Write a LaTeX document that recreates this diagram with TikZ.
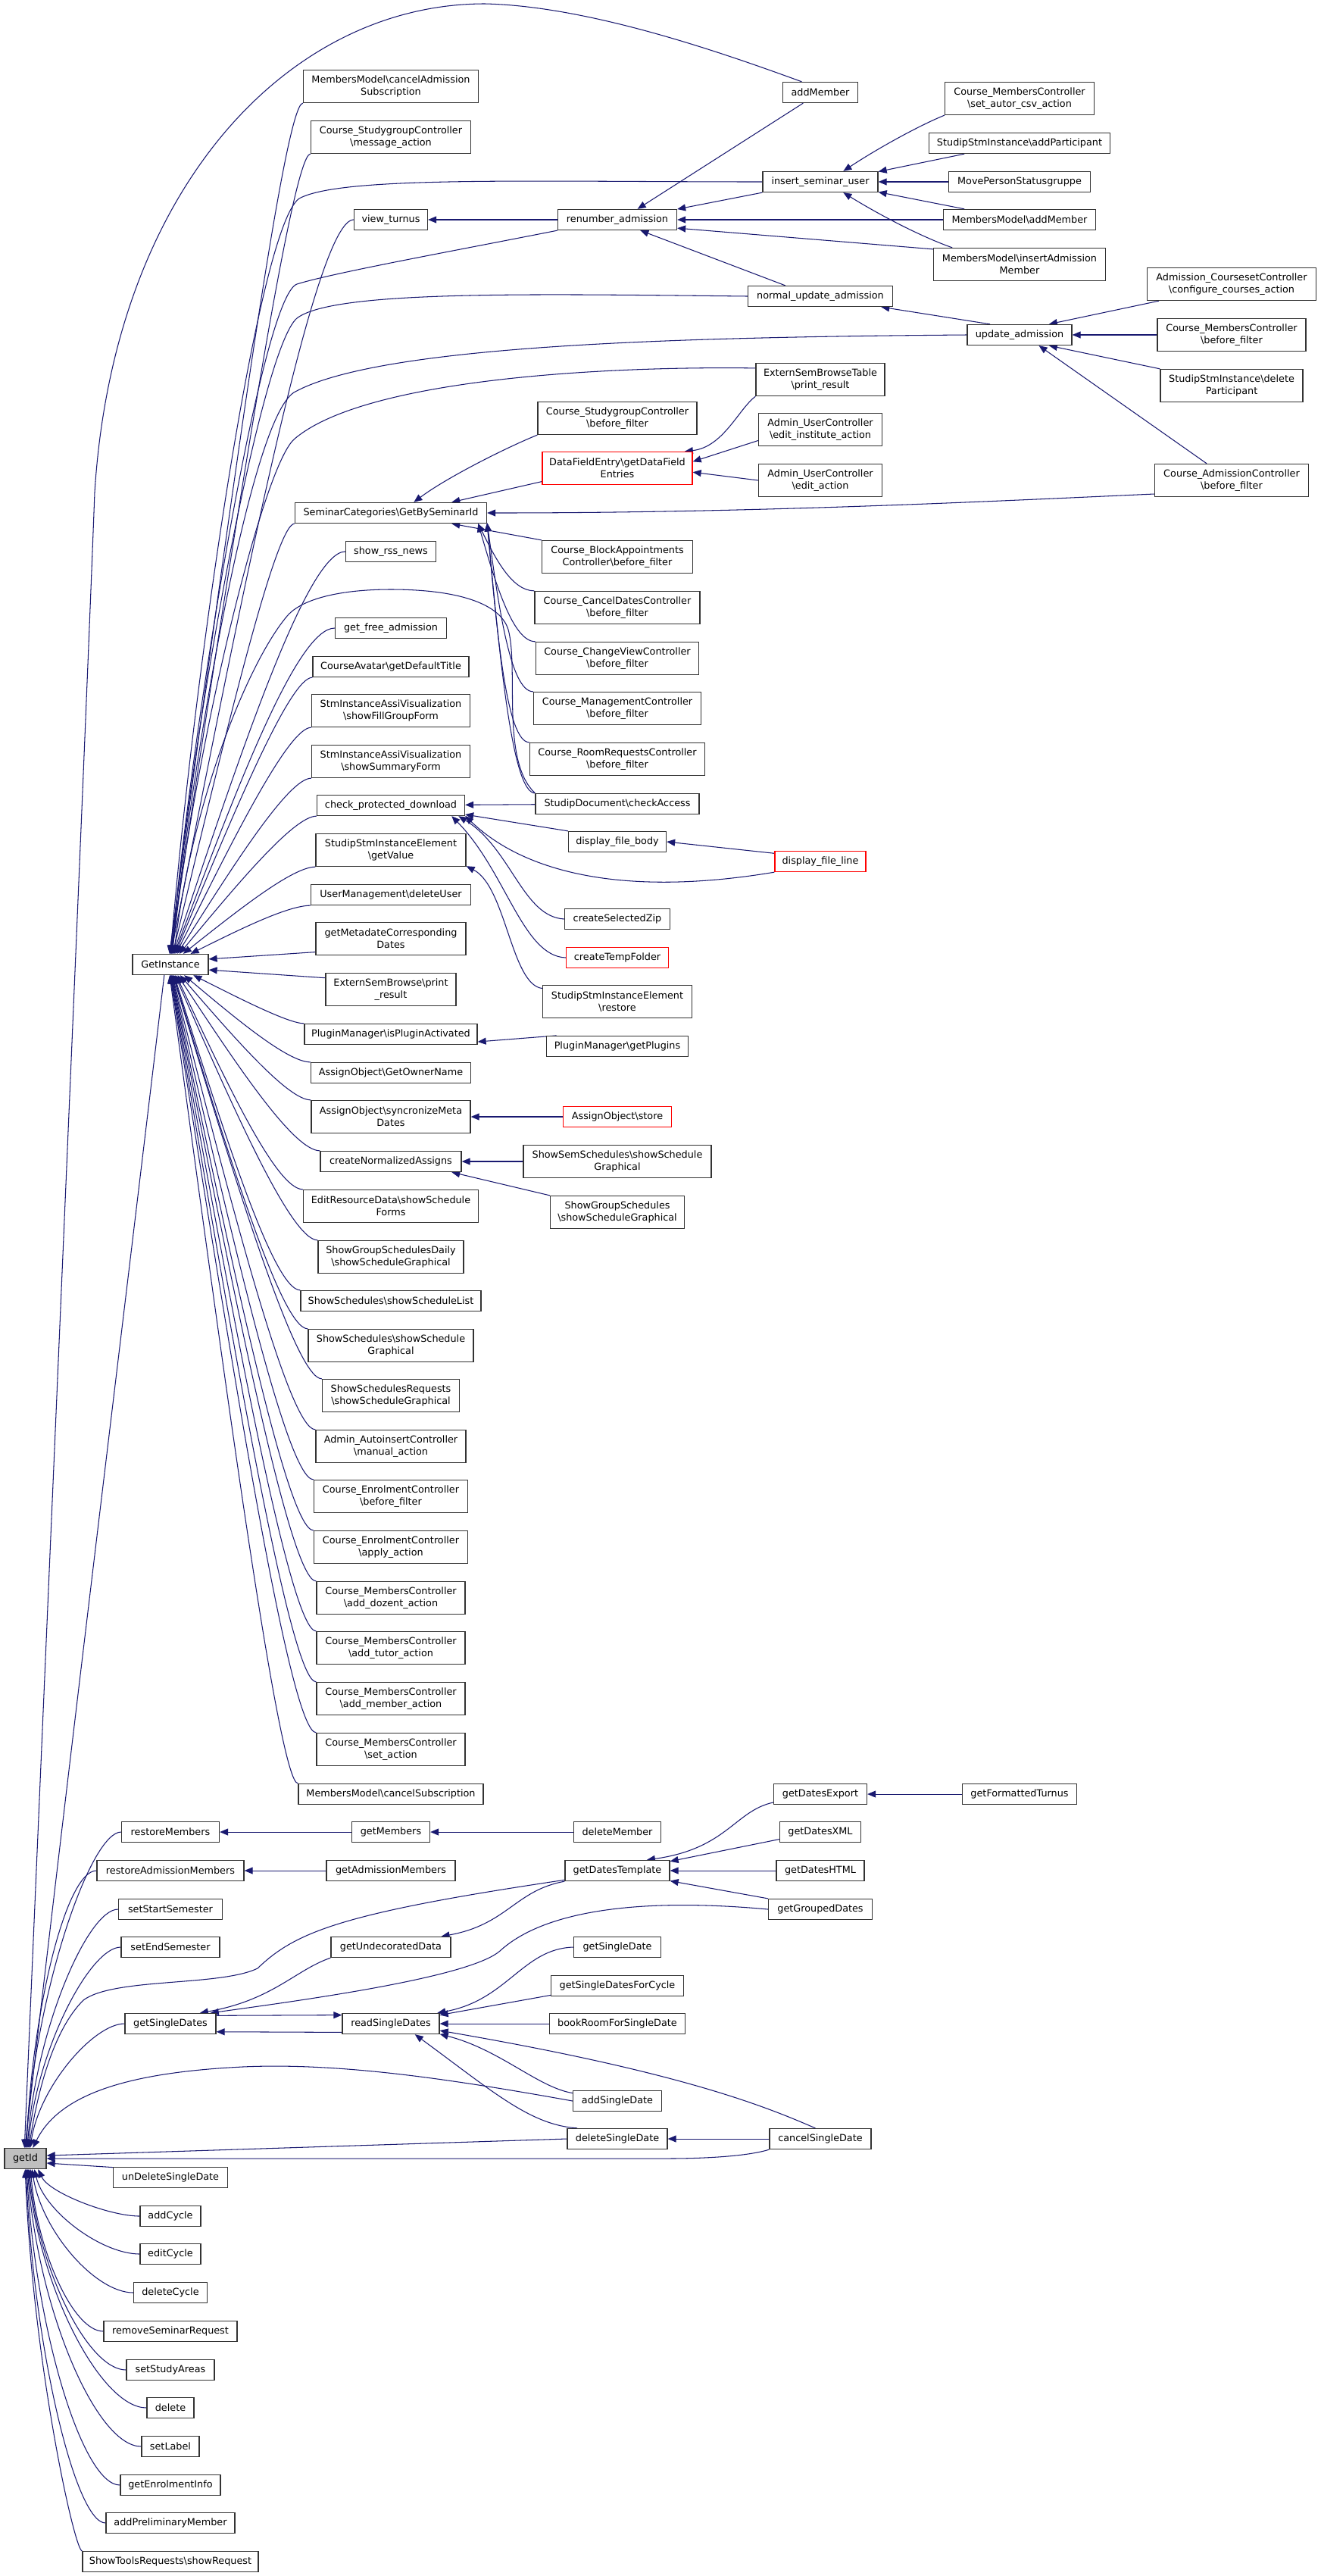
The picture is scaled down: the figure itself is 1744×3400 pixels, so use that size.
\documentclass[tikz,border=0pt]{standalone}
\usepackage{fontspec}
\setmainfont{DejaVu Sans}
\usetikzlibrary{arrows.meta,calc,backgrounds}
\definecolor{edgecol}{HTML}{191970}
\definecolor{boxgrey}{HTML}{BFBFBF}
\newcommand{\fsz}{\fontsize{12.8}{16}\selectfont}
\newcommand{\bksl}{\textbackslash}
\tikzset{
  fbox/.style={draw=black!80, line width=1.3pt, fill=white, align=center, inner sep=1pt, font=\fsz},
  rbox/.style={fbox, draw=red},
  gbox/.style={fbox, fill=boxgrey},
  call/.style={draw=edgecol, line width=1.05pt, -{Triangle[length=11pt,width=9pt]}, fill=none}
}
\newcommand{\gnd}[7][fbox]{\node[#1, minimum width=#5pt, minimum height=#6pt] (#2) at (#3,#4) {#7};}
\newcommand{\fanto}[4]{\coordinate (fA) at ($(#1)+(-#3,0)$);\draw[call] (#1) .. controls (fA) and ($(#2)!#4!(fA)$) .. (#2);}
\newcommand{\fanv}[4]{\draw[call] let \p1=(#1), \p2=(#2) in (\p1) .. controls (\x1-#3,\y1) and (\x2+0.15*\x1-0.15*\x2-0.15*#3, \y2+#4*\y1-#4*\y2) .. (\p2);}
\begin{document}
\begin{tikzpicture}[x=1pt,y=-1pt]
\useasboundingbox (0,0) rectangle (1744,3400);
% ---------- column 0/1
\gnd[gbox]{gid}{33.5}{2849}{55}{27}{getId}
\gnd{gi}{225}{1273}{100}{27}{GetInstance}
\gnd{rm}{225}{2418}{129}{27}{restoreMembers}
\gnd{ram}{225}{2469}{194}{27}{restoreAdmissionMembers}
\gnd{sss}{225}{2520}{137}{27}{setStartSemester}
\gnd{ses}{225}{2570}{130}{27}{setEndSemester}
\gnd{gsds}{225}{2671}{120}{27}{getSingleDates}
\gnd{udsd}{225}{2874}{151}{27}{unDeleteSingleDate}
\gnd{acy}{225}{2925}{80}{27}{addCycle}
\gnd{ecy}{225}{2975}{80}{27}{editCycle}
\gnd{dcy}{225}{3026}{97}{27}{deleteCycle}
\gnd{rsr}{225}{3077}{176}{27}{removeSeminarRequest}
\gnd{ssa}{225}{3128}{116}{27}{setStudyAreas}
\gnd{del}{225}{3178}{62}{27}{delete}
\gnd{slb}{225}{3229}{76}{27}{setLabel}
\gnd{gei}{225}{3280}{132}{27}{getEnrolmentInfo}
\gnd{apm}{225}{3330}{170}{27}{addPreliminaryMember}
\gnd{str}{225}{3381}{232}{27}{ShowToolsRequests\bksl showRequest}
% ---------- column 2
\gnd{mmcas}{516}{114}{231}{43}{MembersModel\bksl cancelAdmission\\Subscription}
\gnd{csgma}{516}{181}{211}{43}{Course\_StudygroupController\\\bksl message\_action}
\gnd{vt}{516}{290}{97}{27}{view\_turnus}
\gnd{sc}{516}{677}{253}{27}{SeminarCategories\bksl GetBySeminarId}
\gnd{srn}{516}{728}{119}{27}{show\_rss\_news}
\gnd{gfa}{516}{829}{147}{27}{get\_free\_admission}
\gnd{cadt}{516}{880}{206}{27}{CourseAvatar\bksl getDefaultTitle}
\gnd{sfgf}{516}{938}{209}{43}{StmInstanceAssiVisualization\\\bksl showFillGroupForm}
\gnd{ssf}{516}{1005}{209}{43}{StmInstanceAssiVisualization\\\bksl showSummaryForm}
\gnd{cpd}{516}{1063}{195}{27}{check\_protected\_download}
\gnd{gv}{516}{1122}{198}{43}{StudipStmInstanceElement\\\bksl getValue}
\gnd{umdu}{516}{1181}{211}{27}{UserManagement\bksl deleteUser}
\gnd{gmcd}{516}{1239}{198}{43}{getMetadateCorresponding\\Dates}
\gnd{esbpr}{516}{1306}{172}{43}{ExternSemBrowse\bksl print\\\_result}
\gnd{pmipa}{516}{1365}{228}{27}{PluginManager\bksl isPluginActivated}
\gnd{aogon}{516}{1416}{211}{27}{AssignObject\bksl GetOwnerName}
\gnd{aosmd}{516}{1474}{210}{43}{AssignObject\bksl syncronizeMeta\\Dates}
\gnd{cna}{516}{1533}{186}{27}{createNormalizedAssigns}
\gnd{erdsf}{516}{1592}{231}{43}{EditResourceData\bksl showSchedule\\Forms}
\gnd{gsdsg}{516}{1659}{192}{43}{ShowGroupSchedulesDaily\\\bksl showScheduleGraphical}
\gnd{sssl}{516}{1717}{238}{27}{ShowSchedules\bksl showScheduleList}
\gnd{sssg}{516}{1776}{218}{43}{ShowSchedules\bksl showSchedule\\Graphical}
\gnd{ssrsg}{516}{1842}{181}{43}{ShowSchedulesRequests\\\bksl showScheduleGraphical}
\gnd{aima}{516}{1909}{198}{43}{Admin\_AutoinsertController\\\bksl manual\_action}
\gnd{cebf}{516}{1975}{203}{43}{Course\_EnrolmentController\\\bksl before\_filter}
\gnd{ceaa}{516}{2042}{203}{43}{Course\_EnrolmentController\\\bksl apply\_action}
\gnd{cmcad}{516}{2109}{196}{43}{Course\_MembersController\\\bksl add\_dozent\_action}
\gnd{cmcat}{516}{2175}{196}{43}{Course\_MembersController\\\bksl add\_tutor\_action}
\gnd{cmcam}{516}{2242}{196}{43}{Course\_MembersController\\\bksl add\_member\_action}
\gnd{cmcsa}{516}{2309}{196}{43}{Course\_MembersController\\\bksl set\_action}
\gnd{mmcs}{516}{2368}{244}{27}{MembersModel\bksl cancelSubscription}
\gnd{gm}{516}{2418}{103}{27}{getMembers}
\gnd{gam}{516}{2469}{170}{27}{getAdmissionMembers}
\gnd{gud}{516}{2570}{158}{27}{getUndecoratedData}
\gnd{rsd}{516}{2671}{128}{27}{readSingleDates}
% ---------- column 3
\gnd{ra}{815}{290}{157}{27}{renumber\_admission}
\gnd{csgbf}{815}{552}{210}{43}{Course\_StudygroupController\\\bksl before\_filter}
\gnd[rbox]{dfe}{815}{618}{198}{43}{DataFieldEntry\bksl getDataField\\Entries}
\gnd{cbabf}{815}{735}{199}{43}{Course\_BlockAppointments\\Controller\bksl before\_filter}
\gnd{ccdbf}{815}{802}{218}{43}{Course\_CancelDatesController\\\bksl before\_filter}
\gnd{ccvbf}{815}{869}{215}{43}{Course\_ChangeViewController\\\bksl before\_filter}
\gnd{cmgbf}{815}{935}{221}{43}{Course\_ManagementController\\\bksl before\_filter}
\gnd{crrbf}{815}{1002}{231}{43}{Course\_RoomRequestsController\\\bksl before\_filter}
\gnd{sdca}{815}{1061}{216}{27}{StudipDocument\bksl checkAccess}
\gnd{dfb}{815}{1111}{129}{27}{display\_file\_body}
\gnd{csz}{815}{1213}{139}{27}{createSelectedZip}
\gnd[rbox]{ctf}{815}{1264}{135}{27}{createTempFolder}
\gnd{sser}{815}{1322}{197}{43}{StudipStmInstanceElement\\\bksl restore}
\gnd{pmgp}{815}{1381}{187}{27}{PluginManager\bksl getPlugins}
\gnd[rbox]{aos}{815}{1474}{143}{27}{AssignObject\bksl store}
\gnd{sssgr}{815}{1533}{248}{43}{ShowSemSchedules\bksl showSchedule\\Graphical}
\gnd{gssg}{815}{1600}{177}{43}{ShowGroupSchedules\\\bksl showScheduleGraphical}
\gnd{dm}{815}{2418}{115}{27}{deleteMember}
\gnd{gdt}{815}{2469}{138}{27}{getDatesTemplate}
\gnd{gsd}{815}{2570}{115}{27}{getSingleDate}
\gnd{gsdfc}{815}{2621}{175}{27}{getSingleDatesForCycle}
\gnd{brsd}{815}{2671}{179}{27}{bookRoomForSingleDate}
\gnd{asd}{815}{2773}{117}{27}{addSingleDate}
\gnd{dsd}{815}{2823}{132}{27}{deleteSingleDate}
% ---------- column 4
\gnd{am}{1083}{122}{99}{27}{addMember}
\gnd{isu}{1083}{240}{152}{27}{insert\_seminar\_user}
\gnd{nua}{1083}{391}{191}{27}{normal\_update\_admission}
\gnd{esbt}{1083}{501}{170}{43}{ExternSemBrowseTable\\\bksl print\_result}
\gnd{ucei}{1083}{567}{163}{43}{Admin\_UserController\\\bksl edit\_institute\_action}
\gnd{ucea}{1083}{634}{163}{43}{Admin\_UserController\\\bksl edit\_action}
\gnd[rbox]{dfl}{1083}{1137}{120}{27}{display\_file\_line}
\gnd{gde}{1083}{2368}{123}{27}{getDatesExport}
\gnd{gdx}{1083}{2418}{107}{27}{getDatesXML}
\gnd{gdh}{1083}{2469}{116}{27}{getDatesHTML}
\gnd{ggd}{1083}{2520}{137}{27}{getGroupedDates}
\gnd{csd}{1083}{2823}{134}{27}{cancelSingleDate}
% ---------- column 5
\gnd{cmcsac}{1346}{130}{197}{43}{Course\_MembersController\\\bksl set\_autor\_csv\_action}
\gnd{ssiap}{1346}{189}{239}{27}{StudipStmInstance\bksl addParticipant}
\gnd{mpsg}{1346}{240}{187}{27}{MovePersonStatusgruppe}
\gnd{mmam}{1346}{290}{201}{27}{MembersModel\bksl addMember}
\gnd{mmiam}{1346}{349}{227}{43}{MembersModel\bksl insertAdmission\\Member}
\gnd{ua}{1346}{442}{138}{27}{update\_admission}
\gnd{gft}{1346}{2368}{151}{27}{getFormattedTurnus}
% ---------- column 6
\gnd{accc}{1626}{375}{223}{43}{Admission\_CoursesetController\\\bksl configure\_courses\_action}
\gnd{cmcbf}{1626}{442}{196}{43}{Course\_MembersController\\\bksl before\_filter}
\gnd{ssidp}{1626}{509}{188}{43}{StudipStmInstance\bksl delete\\Participant}
\gnd{cacbf}{1626}{634}{203}{43}{Course\_AdmissionController\\\bksl before\_filter}

\begin{scope}[on background layer]
\fill[white] (0,0) rectangle (1744,3400);
% ---------- top region
\draw[call] (am.150) .. controls (960,72) and (780,8) .. (640,5) .. controls (380,5) and (150,250) .. (125,650) .. controls (112,1000) and (55,2300) .. (gid.95);
\draw[call] (am.212) -- (ra.28);
\draw[call] (cmcsac.south west) .. controls (1215,165) and (1160,195) .. (isu.25);
\draw[call] (ssiap.191) -- (isu.10);
\draw[call] (mpsg) -- (isu);
\draw[call] (mmam.169) -- (isu.-10);
\draw[call] (mmiam.166) .. controls (1215,312) and (1160,283) .. (isu.-25);
\draw[call] (isu.south west) -- (ra.10);
\draw[call] (mmam) -- (ra);
\draw[call] (mmiam.170) -- (ra.-8);
\draw[call] (nua.163) -- (ra.-25);
\draw[call] (ra) -- (vt);
\draw[call] (ua.160) -- (nua.-10);
\draw[call] (accc.193) -- (ua.20);
\draw[call] (cmcbf) -- (ua);
\draw[call] (ssidp.north west) -- (ua.-20);
\draw[call] (cacbf.146) -- (ua.-29);
% ---------- DataFieldEntry / SeminarCategories
\draw[call] (esbt.south west) .. controls (975,540) and (955,590) .. (dfe.14);
\draw[call] (ucei.190) -- (dfe.5);
\draw[call] (ucea.west) -- (dfe.-3);
\draw[call] (dfe.190) -- (sc.10);
\draw[call] (csgbf.south west) .. controls (670,590) and (590,630) .. (sc.25);
\draw[call] (cacbf.190) .. controls (1300,662) and (1000,677) .. (sc.east);
\draw[call] (cbabf.north west) -- (sc.-10);
\fanto{ccdbf.north west}{sc.-7.5}{30}{0.5}
\fanto{ccvbf.north west}{sc.-7}{30}{0.5}
\fanto{cmgbf.north west}{sc.-6.7}{30}{0.5}
\fanto{crrbf.north west}{sc.-6.4}{30}{0.5}
\fanto{sdca.north west}{sc.-6.2}{30}{0.5}
% ---------- check_protected_download etc.
\draw[call] (sdca) -- (cpd);
\draw[call] (dfb.north west) -- (cpd.-7);
\draw[call] (dfl.south west) .. controls (820,1185) and (690,1150) .. (cpd.-8);
\draw[call] (csz.west) .. controls (690,1210) and (675,1120) .. (cpd.-9);
\draw[call] (ctf.west) .. controls (690,1262) and (668,1150) .. (cpd.-10);
\draw[call] (dfl.170) -- (dfb.east);
\draw[call] (sser.170) .. controls (675,1300) and (668,1170) .. (gv.-12);
\draw[call] (pmgp.170) -- (pmipa.-5);
\draw[call] (aos) -- (aosmd);
\draw[call] (sssgr) -- (cna);
\draw[call] (gssg.north west) -- (cna.-10);
% ---------- GetInstance fan (above)
\fanto{mmcas.south west}{gi.95}{25}{0.5}
\fanto{csgma.south west}{gi.92}{25}{0.5}
\draw[call] (isu.west) .. controls (700,240) and (450,232) .. (395,262) .. controls (340,300) and (255,900) .. (gi.90);
\fanto{vt.west}{gi.88}{50}{0.5}
\draw[call] (ra.south west) .. controls (600,331) and (440,360) .. (392,375) .. controls (345,392) and (255,950) .. (gi.86);
\draw[call] (nua.west) .. controls (700,388) and (440,383) .. (392,420) .. controls (345,460) and (255,950) .. (gi.84);
\draw[call] (ua.west) .. controls (900,445) and (500,455) .. (388,518) .. controls (330,555) and (255,1000) .. (gi.82);
\draw[call] (esbt.170) .. controls (800,483) and (480,500) .. (388,580) .. controls (345,620) and (255,1000) .. (gi.80);
\fanto{sc.south west}{gi.78}{25}{0.5}
\fanto{srn.west}{gi.75}{50}{0.5}
\draw[call] (sdca.north west) .. controls (662,1005) and (684,890) .. (672,835) .. controls (664,795) and (600,778) .. (516,778) .. controls (450,778) and (400,790) .. (380,812) .. controls (330,870) and (255,1050) .. (gi.72);
\fanto{gfa.west}{gi.70}{50}{0.5}
\fanto{cadt.south west}{gi.66}{30}{0.5}
\fanto{sfgf.south west}{gi.62}{30}{0.5}
\fanto{ssf.south west}{gi.57}{30}{0.5}
\fanto{cpd.south west}{gi.50}{30}{0.5}
\fanto{gv.south west}{gi.40}{30}{0.5}
\fanto{umdu.south west}{gi.28}{30}{0.5}
\draw[call] (gmcd.190) -- (gi.8);
% ---------- GetInstance fan (below)
\draw[call] (esbpr.170) -- (gi.-8);
\fanto{pmipa.north west}{gi.-25}{20}{0.5}
\fanto{aogon.north west}{gi.-38}{30}{0.5}
\fanto{aosmd.north west}{gi.-48}{30}{0.5}
\fanto{cna.north west}{gi.-56}{35}{0.5}
\fanto{erdsf.north west}{gi.-62}{35}{0.5}
\fanto{gsdsg.north west}{gi.-67}{35}{0.5}
\fanto{sssl.north west}{gi.-71}{35}{0.5}
\fanto{sssg.north west}{gi.-74}{35}{0.5}
\fanto{ssrsg.north west}{gi.-77}{35}{0.5}
\fanto{aima.north west}{gi.-80}{35}{0.5}
\fanto{cebf.north west}{gi.-82}{35}{0.5}
\fanto{ceaa.north west}{gi.-84}{35}{0.5}
\fanto{cmcad.north west}{gi.-86}{35}{0.5}
\fanto{cmcat.north west}{gi.-88}{35}{0.5}
\fanto{cmcam.north west}{gi.-90}{35}{0.5}
\fanto{cmcsa.north west}{gi.-92}{35}{0.5}
\fanto{mmcs.north west}{gi.-94}{25}{0.5}
\draw[call] (gi.240) .. controls (180,1600) and (70,2500) .. (gid.92);
% ---------- bottom region
\draw[call] (gm) -- (rm);
\draw[call] (dm) -- (gm);
\draw[call] (gam) -- (ram);
\draw[call] (gft) -- (gde);
\draw[call] (gde.190) .. controls (970,2390) and (960,2440) .. (gdt.20);
\draw[call] (gdx.190) -- (gdt.10);
\draw[call] (gdh) -- (gdt);
\draw[call] (ggd.north west) -- (gdt.-11);
\draw[call] (gdt.south west) .. controls (680,2495) and (670,2540) .. (gud.12);
\draw[call] (gud.south west) .. controls (390,2600) and (360,2640) .. (gsds.20);
\draw[call] (ggd.west) .. controls (850,2505) and (720,2520) .. (660,2575) .. controls (620,2610) and (400,2640) .. (gsds.15);
\draw[call] (gsds.10) -- (rsd.170);
\draw[call] (rsd.190) -- (gsds.-10);
\draw[call] (gsd.west) .. controls (690,2572) and (670,2640) .. (rsd.13);
\draw[call] (gsdfc.188) -- (rsd.10);
\draw[call] (brsd) -- (rsd);
\draw[call] (csd.115) .. controls (1010,2780) and (900,2735) .. (rsd.-8);
\draw[call] (asd.170) .. controls (710,2755) and (660,2705) .. (rsd.-12);
\draw[call] (dsd.165) .. controls (700,2805) and (650,2760) .. (rsd.-24);
\draw[call] (csd) -- (dsd);
% ---------- getId callers
\fanv{rm.west}{gid.88}{40}{0.5}
\fanv{ram.west}{gid.84}{40}{0.5}
\fanv{sss.west}{gid.80}{40}{0.5}
\fanv{ses.west}{gid.76}{40}{0.5}
\draw[call] (gdt.190) .. controls (450,2525) and (390,2550) .. (340,2598) .. controls (290,2622) and (150,2610) .. (110,2640) .. controls (70,2680) and (50,2760) .. (gid.72);
\fanv{gsds.west}{gid.66}{40}{0.5}
\draw[call] (asd.west) .. controls (600,2745) and (450,2722) .. (320,2728) .. controls (180,2735) and (80,2760) .. (gid.55);
\draw[call] (dsd.west) -- (gid.8);
\draw[call] (csd.south west) .. controls (990,2845) and (940,2849) .. (880,2849) -- (gid.east);
\draw[call] (udsd.170) -- (gid.-12);
\fanv{acy.west}{gid.-40}{40}{0.5}
\fanv{ecy.west}{gid.-50}{50}{0.5}
\fanv{dcy.west}{gid.-58}{50}{0.5}
\fanv{rsr.west}{gid.-64}{40}{0.5}
\fanv{ssa.west}{gid.-70}{50}{0.5}
\fanv{del.west}{gid.-75}{60}{0.5}
\fanv{slb.west}{gid.-79}{60}{0.5}
\fanv{gei.west}{gid.-83}{50}{0.5}
\fanv{apm.west}{gid.-87}{40}{0.5}
\fanv{str.north west}{gid.-91}{10}{0.5}
\end{scope}
\end{tikzpicture}
\end{document}
